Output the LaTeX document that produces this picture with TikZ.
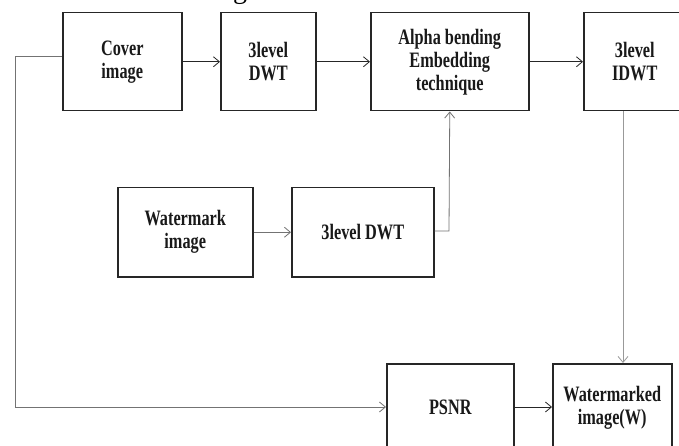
\documentclass[tikz,border=0pt]{standalone}
\usepackage{fontspec}
\setmainfont[FakeStretch=0.74]{Liberation Serif}
\newfontfamily\plainserif{Liberation Serif}
\usetikzlibrary{arrows.meta}
\begin{document}
\begin{tikzpicture}[x=1pt,y=-1pt,
  box/.style={draw=black!85,line width=1.5pt,inner sep=0pt,anchor=north west,
    font=\fontsize{22}{23}\selectfont\bfseries,align=center,text=black!90},
  arr/.style={-{Straight Barb[length=6pt,width=10pt]},line width=0.8pt,draw=black!85},
  garr/.style={arr,draw=black!55},
  larr/.style={arr,draw=black!40}]
\useasboundingbox (0,0) rectangle (679,446);
\fill[white] (0,0) rectangle (679,446);
\node[font=\plainserif\fontsize{28}{28}\selectfont,anchor=south,inner sep=0pt] (gfrag) at (240,5) {g};
\node[box,minimum width=119pt,minimum height=98pt] (cover) at (62,12) {Cover\\image};
\node[box,minimum width=95pt,minimum height=98pt] (dwta) at (220,12) {3level\\DWT};
\node[box,minimum width=158pt,minimum height=98pt] (alpha) at (370,12) {Alpha bending\\Embedding\\technique};
\node[box,minimum width=102pt,minimum height=98pt] (idwt) at (583,12) {3level\\IDWT};
\node[box,minimum width=135pt,minimum height=89pt] (wm) at (117,187) {Watermark\\image};
\node[box,minimum width=142pt,minimum height=89pt] (dwtb) at (291,187) {3level DWT};
\node[box,minimum width=127pt,minimum height=88pt] (psnr) at (386,363) {PSNR};
\node[box,minimum width=119pt,minimum height=88pt] (wmd) at (552,363) {Watermarked\\image(W)};
\coordinate (vx) at (623,0);
\coordinate (bend) at (449,231);
\coordinate (fb) at (15,407);
\draw[arr] (cover) -- (dwta);
\draw[arr] (dwta) -- (alpha);
\draw[arr] (alpha) -- (idwt.west |- alpha);
\draw[garr] (wm) -- (dwtb);
\draw[garr] (dwtb.east |- bend) -- (bend) -- (alpha.south);
\draw[larr] (idwt.south -| vx) -- (wmd.north -| vx);
\draw[garr] ([yshift=5pt]cover.west) -| (fb) -- (psnr.west |- fb);
\draw[arr] (psnr.east |- fb) -- (wmd.west |- fb);
\end{tikzpicture}
\end{document}
